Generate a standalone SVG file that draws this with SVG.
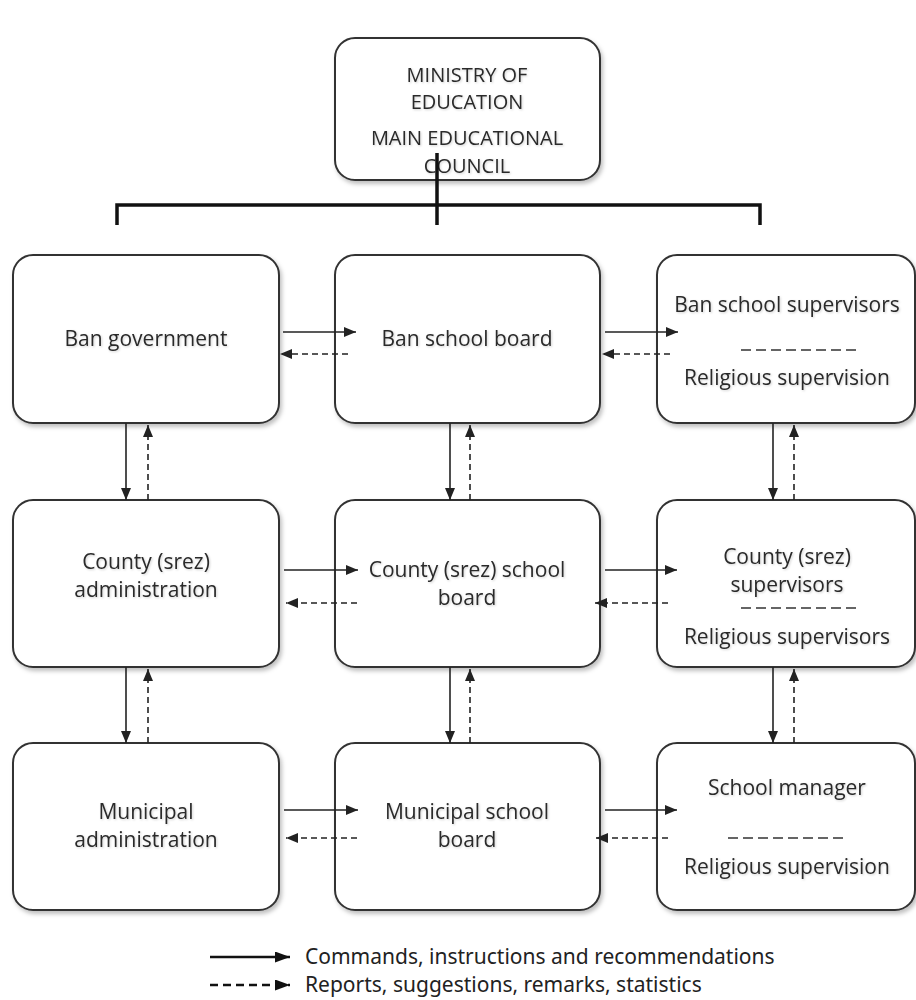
<svg xmlns="http://www.w3.org/2000/svg" width="916" height="1000" viewBox="0 0 916 1000">
<style>
.box{fill:#fff;stroke:#333;stroke-width:2;filter:url(#sh)}
.t{font-family:"Open Sans","Liberation Sans",sans-serif;font-size:21px;fill:#2a2a2a;text-anchor:middle;filter:url(#ts)}
.tt{font-size:20px}
.lg{font-family:"Noto Sans","Liberation Sans",sans-serif;font-size:21px;fill:#222}
.s{stroke:#222;stroke-width:1.6;fill:none;marker-end:url(#ah)}
.d{stroke:#222;stroke-width:1.6;fill:none;stroke-dasharray:6 4;marker-end:url(#ah)}
.ls{stroke:#111;stroke-width:2.4;fill:none;marker-end:url(#ah2)}
.ld{stroke:#111;stroke-width:2.4;fill:none;stroke-dasharray:8 5;marker-end:url(#ah2)}
.sep{stroke:#333;stroke-width:1.6;stroke-dasharray:10 5}
.tree{stroke:#111;stroke-width:3.5;fill:none}
</style>
<defs>
<filter id="sh" x="-10%" y="-10%" width="120%" height="125%">
<feDropShadow dx="2" dy="3" stdDeviation="2" flood-color="#000" flood-opacity="0.25"/>
</filter>
<filter id="ts" x="-5%" y="-30%" width="110%" height="160%">
<feDropShadow dx="1" dy="1" stdDeviation="1.2" flood-color="#000" flood-opacity="0.18"/>
</filter>
<marker id="ah" viewBox="0 0 12 10" refX="12" refY="5" markerWidth="12" markerHeight="10" markerUnits="userSpaceOnUse" orient="auto">
<path d="M0,0 L12,5 L0,10 z" fill="#222"/>
</marker>
<marker id="ah2" viewBox="0 0 15 11" refX="15" refY="5.5" markerWidth="15" markerHeight="11" markerUnits="userSpaceOnUse" orient="auto">
<path d="M0,0 L15,5.5 L0,11 z" fill="#111"/>
</marker>
</defs>

<g id="ministry">
<rect class="box" x="335" y="38" width="265" height="142" rx="20"/>
<text class="t tt" x="467" y="82">MINISTRY OF</text>
<text class="t tt" x="467" y="109">EDUCATION</text>
<text class="t tt" x="467" y="145">MAIN EDUCATIONAL</text>
<text class="t tt" x="467" y="173">COUNCIL</text>
</g>

<g id="ban-government">
<rect class="box" x="13" y="255" width="266" height="168" rx="20"/>
<text class="t" x="146" y="346">Ban government</text>
</g>
<g id="ban-school-board">
<rect class="box" x="335" y="255" width="265" height="168" rx="20"/>
<text class="t" x="467" y="346">Ban school board</text>
</g>
<g id="ban-school-supervisors">
<rect class="box" x="657" y="255" width="258" height="168" rx="20"/>
<text class="t" x="787" y="312">Ban school supervisors</text>
<line class="sep" x1="741" y1="350" x2="856" y2="350"/>
<text class="t" x="787" y="385">Religious supervision</text>
</g>

<g id="county-administration">
<rect class="box" x="13" y="500" width="266" height="167" rx="20"/>
<text class="t" x="146" y="569">County (srez)</text>
<text class="t" x="146" y="597">administration</text>
</g>
<g id="county-school-board">
<rect class="box" x="335" y="500" width="265" height="167" rx="20"/>
<text class="t" x="467" y="577">County (srez) school</text>
<text class="t" x="467" y="605">board</text>
</g>
<g id="county-supervisors">
<rect class="box" x="657" y="500" width="258" height="167" rx="20"/>
<text class="t" x="787" y="564">County (srez)</text>
<text class="t" x="787" y="592">supervisors</text>
<line class="sep" x1="741" y1="608" x2="856" y2="608"/>
<text class="t" x="787" y="644">Religious supervisors</text>
</g>

<g id="municipal-administration">
<rect class="box" x="13" y="743" width="266" height="167" rx="20"/>
<text class="t" x="146" y="819">Municipal</text>
<text class="t" x="146" y="847">administration</text>
</g>
<g id="municipal-school-board">
<rect class="box" x="335" y="743" width="265" height="167" rx="20"/>
<text class="t" x="467" y="819">Municipal school</text>
<text class="t" x="467" y="847">board</text>
</g>
<g id="school-manager">
<rect class="box" x="657" y="743" width="258" height="167" rx="20"/>
<text class="t" x="787" y="795">School manager</text>
<line class="sep" x1="728" y1="838" x2="848" y2="838"/>
<text class="t" x="787" y="874">Religious supervision</text>
</g>

<g id="connectors">
<path class="tree" d="M437,153 V225 M117,225 V205 H760 V225"/>
<path class="s" d="M283,332 H356"/>
<path class="d" d="M348,354 H280"/>
<path class="s" d="M605,332 H678"/>
<path class="d" d="M670,354 H602"/>
<path class="s" d="M284,570 H358"/>
<path class="d" d="M357,603 H286"/>
<path class="s" d="M605,570 H677"/>
<path class="d" d="M668,603 H595"/>
<path class="s" d="M284,810 H358"/>
<path class="d" d="M357,838 H286"/>
<path class="s" d="M605,810 H677"/>
<path class="d" d="M668,838 H596"/>
<path class="s" d="M126,423 V500"/>
<path class="d" d="M148,500 V425"/>
<path class="s" d="M450,423 V500"/>
<path class="d" d="M470,500 V425"/>
<path class="s" d="M773,423 V500"/>
<path class="d" d="M794,500 V425"/>
<path class="s" d="M126,667 V743"/>
<path class="d" d="M148,743 V669"/>
<path class="s" d="M450,667 V743"/>
<path class="d" d="M470,743 V669"/>
<path class="s" d="M773,667 V743"/>
<path class="d" d="M794,743 V669"/>
</g>

<g id="legend">
<path class="ls" d="M210,957 H290"/>
<path class="ld" d="M210,985 H290"/>
<text class="lg" x="305" y="964">Commands, instructions and recommendations</text>
<text class="lg" x="305" y="992">Reports, suggestions, remarks, statistics</text>
</g>
</svg>
